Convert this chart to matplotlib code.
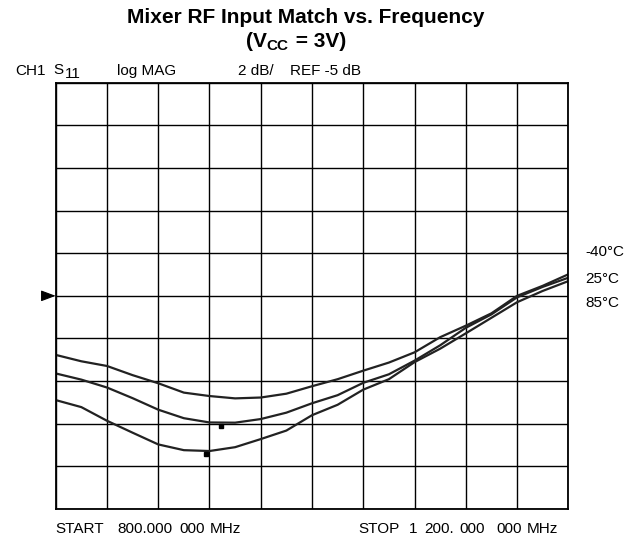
import matplotlib
matplotlib.use("Agg")
import matplotlib.pyplot as plt
import numpy as np

plt.rcParams['font.family'] = ['Liberation Sans', 'DejaVu Sans']

# Frequency (MHz) and S11 (dB) traces
freq_mhz = [800, 820, 840, 860, 880, 900, 920, 940, 960, 980, 1000,
            1020, 1040, 1060, 1080, 1100, 1120, 1140, 1160, 1180, 1200]
s11_a = [-7.77, -8.07, -8.29, -8.72, -9.10, -9.54, -9.70, -9.81, -9.77, -9.59, -9.24,
         -8.91, -8.51, -8.13, -7.65, -6.94, -6.40, -5.82, -5.00, -4.53, -3.99]
s11_b = [-8.64, -8.93, -9.30, -9.80, -10.34, -10.74, -10.94, -10.95, -10.78, -10.48, -10.04,
         -9.66, -9.08, -8.68, -8.04, -7.32, -6.50, -5.87, -5.07, -4.58, -4.15]
s11_c = [-9.89, -10.22, -10.86, -11.42, -11.97, -12.24, -12.28, -12.10, -11.72, -11.32, -10.60,
         -10.11, -9.40, -8.91, -8.11, -7.48, -6.76, -6.03, -5.30, -4.77, -4.31]
temp_labels = ["-40°C", "25°C", "85°C"]
marker_freqs = [917, 929]
marker_dbs = [-12.42, -11.1]

ref_db = -5
db_per_div = 2
f_start, f_stop = 800, 1200

fig = plt.figure(figsize=(6.37, 5.42), dpi=100)
W, H = 637, 542
left, right, top, bottom = 55.7, 568.3, 82.7, 509.0
ax = fig.add_axes([left / W, 1 - bottom / H, (right - left) / W, (bottom - top) / H])

ax.set_xlim(f_start, f_stop)
ax.set_ylim(ref_db - 5 * db_per_div, ref_db + 5 * db_per_div)
ax.set_xticks(np.linspace(f_start, f_stop, 11))
ax.set_yticks(np.linspace(ref_db - 5 * db_per_div, ref_db + 5 * db_per_div, 11))
ax.grid(True, color='black', linewidth=1.0)
ax.tick_params(length=0, labelbottom=False, labelleft=False)
for s in ax.spines.values():
    s.set_linewidth(1.3)
    s.set_color('black')

for ys in (s11_a, s11_b, s11_c):
    ax.plot(freq_mhz, ys, color='#222222', linewidth=1.6)
ax.plot(marker_freqs[:1], marker_dbs[:1], marker='s', color='black', markersize=3.5, linestyle='none')
ax.plot(marker_freqs[1:], marker_dbs[1:], marker='s', color='black', markersize=2.5, linestyle='none')

# reference-level arrow on the left
ax.annotate('', xy=(0, ref_db), xycoords=('axes fraction', 'data'),
            xytext=(-12, 0), textcoords='offset pixels',
            arrowprops=dict(arrowstyle='-|>,head_length=0.75,head_width=0.28',
                            color='black', lw=0.8, mutation_scale=12,
                            shrinkA=0, shrinkB=0))

def px(x, y, s, **kw):
    kw.setdefault('va', 'baseline')
    fig.text(x / W, 1 - y / H, s, **kw)

# Title
px(306, 22.7, "Mixer RF Input Match vs. Frequency", fontsize=15, fontweight='bold', ha='center')
px(246, 46.7, "(V", fontsize=15, fontweight='bold')
px(266, 50.0, "CC", fontsize=11, fontweight='bold')
px(290, 46.7, " = 3V)", fontsize=15, fontweight='bold')

fs = 11
px(46, 75.5, "CH1", fontsize=fs, ha='right')
px(53, 74.5, "S", fontsize=fs)
px(65, 77.5, "11", fontsize=fs)
px(117, 75.5, "log MAG", fontsize=fs)
px(238, 75.5, "2 dB/", fontsize=fs)
px(289.5, 75.5, "REF -5 dB", fontsize=fs)

yb = 533
px(55.7, yb, "START", fontsize=fs)
px(117, yb, "800.000", fontsize=fs)
px(179, yb, "000", fontsize=fs)
px(210, yb, "MHz", fontsize=fs)
px(358, yb, "STOP", fontsize=fs)
px(409, yb, "1", fontsize=fs)
px(424, yb, "200.", fontsize=fs)
px(459, yb, "000", fontsize=fs)
px(496, yb, "000", fontsize=fs)
px(527, yb, "MHz", fontsize=fs)

for lbl, yy in zip(temp_labels, (256, 283, 307)):
    px(585, yy, lbl, fontsize=fs)

fig.savefig("out.png", dpi=100)
